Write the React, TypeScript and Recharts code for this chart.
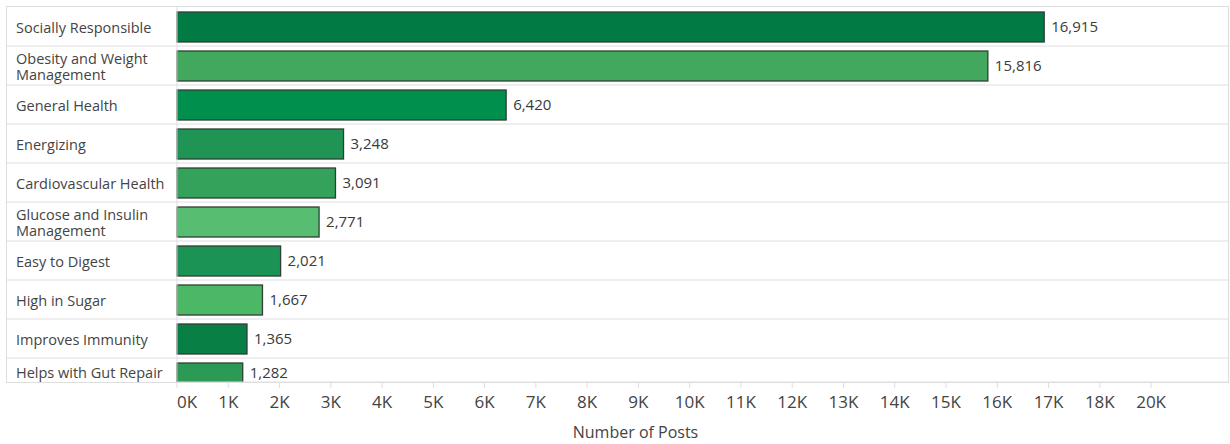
import React from 'react';
import { BarChart, Bar, XAxis, YAxis, Cell, LabelList } from 'recharts';

const categories = [
  'Socially Responsible',
  'Obesity and Weight Management',
  'General Health',
  'Energizing',
  'Cardiovascular Health',
  'Glucose and Insulin Management',
  'Easy to Digest',
  'High in Sugar',
  'Improves Immunity',
  'Helps with Gut Repair',
];
const posts = [16915, 15816, 6420, 3248, 3091, 2771, 2021, 1667, 1365, 1282];
const barColors = [
  '#027a43', '#42a85e', '#018f4e', '#1f9455', '#34a25a',
  '#57bd70', '#1a9354', '#4cb865', '#077f45', '#2a9a55',
];
const tickValues = [0, 1000, 2000, 3000, 4000, 5000, 6000, 7000, 8000, 9000, 10000, 11000, 12000, 13000, 14000, 15000, 16000, 17000, 18000, 19000];
const tickLabels = ['0K', '1K', '2K', '3K', '4K', '5K', '6K', '7K', '8K', '9K', '10K', '11K', '12K', '13K', '14K', '15K', '16K', '17K', '18K', '20K'];
const xMax = 20500;

const data = categories.map((name, i) => ({ name, value: posts[i] }));

const W = 1230;
const H = 444;
const X_AXIS_H = 62;
const PLOT_BOTTOM = H - X_AXIS_H;
const TEXT_MAX_Y = PLOT_BOTTOM - 9;
const FONT = '"Open Sans", "Noto Sans", sans-serif';
const GRID = '#dedede';
const BORDER_L = 6;
const BORDER_R = 1228;

function wrap(text: string, maxChars = 21): string[] {
  const words = text.split(' ');
  const lines: string[] = [];
  let cur = '';
  for (const w of words) {
    const next = cur ? cur + ' ' + w : w;
    if (next.length > maxChars && cur) {
      lines.push(cur);
      cur = w;
    } else {
      cur = next;
    }
  }
  if (cur) lines.push(cur);
  return lines;
}

const YTick = (props: any) => {
  const { y, payload, index } = props;
  const off = payload && typeof payload.offset === 'number' && payload.offset > 0 ? payload.offset : 19.5;
  const lines = wrap(String(payload.value));
  const lh = 16.7;
  let startY = y - ((lines.length - 1) * lh) / 2 + 1.5;
  const lastY = startY + (lines.length - 1) * lh;
  if (lastY > TEXT_MAX_Y) startY -= lastY - TEXT_MAX_Y;
  return (
    <g>
      {index < categories.length - 1 && (
        <line x1={BORDER_L} x2={BORDER_R} y1={y + off} y2={y + off} stroke={GRID} strokeWidth={1} />
      )}
      <text x={16} y={startY} fontSize={14.5} fill="#444" fontFamily={FONT} textAnchor="start">
        {lines.map((l, i) => (
          <tspan key={i} x={16} y={startY + i * lh} dy="0.35em">
            {l}
          </tspan>
        ))}
      </text>
    </g>
  );
};

const XTick = (props: any) => {
  const { x, y, payload } = props;
  const idx = tickValues.indexOf(payload.value);
  const label = idx >= 0 ? tickLabels[idx] : '';
  return (
    <text x={x} y={y} dy={18} fontSize={17} fill="#444" fontFamily={FONT} textAnchor={idx === 0 ? 'start' : 'middle'}>
      {label}
    </text>
  );
};

const ClippedBar = (props: any) => {
  const { x, y, width, height, fill, stroke, strokeWidth, index } = props;
  const id = `barclip-${index}`;
  return (
    <g>
      <defs>
        <clipPath id={id}>
          <rect x={0} y={0} width={W} height={PLOT_BOTTOM} />
        </clipPath>
      </defs>
      <rect
        x={x}
        y={y}
        width={width}
        height={height}
        fill={fill}
        stroke={stroke}
        strokeWidth={strokeWidth}
        clipPath={`url(#${id})`}
      />
    </g>
  );
};

const ValueLabel = (props: any) => {
  const { x, y, width, height, value } = props;
  const cy = Math.min(Number(y) + Number(height) / 2, TEXT_MAX_Y);
  return (
    <text
      x={Number(x) + Number(width) + 7}
      y={cy}
      dy="0.35em"
      fill="#3a3a3a"
      fontSize={15}
      fontFamily={FONT}
      textAnchor="start"
    >
      {Number(value).toLocaleString('en-US')}
    </text>
  );
};

export default function App() {
  return (
    <div style={{ position: 'absolute', left: 0, top: 0, width: W, height: H, background: '#fff' }}>
      <BarChart
        width={W}
        height={H}
        data={data}
        layout="vertical"
        margin={{ top: 7, right: W - BORDER_R, bottom: 0, left: 0 }}
      >
        <XAxis
          type="number"
          domain={[0, xMax]}
          ticks={tickValues}
          interval={0}
          height={X_AXIS_H}
          axisLine={{ stroke: GRID }}
          tickLine={{ stroke: GRID }}
          tickSize={6}
          tick={<XTick />}
          label={{
            value: 'Number of Posts',
            position: 'insideBottom',
            offset: 6,
            dx: -67,
            fill: '#444',
            fontSize: 16,
            fontFamily: FONT,
          }}
        />
        <YAxis
          type="category"
          dataKey="name"
          width={177}
          padding={{ top: 0, bottom: -15 }}
          allowDataOverflow
          axisLine={{ stroke: GRID }}
          tickLine={false}
          interval={0}
          tick={<YTick />}
        />
        <Bar
          dataKey="value"
          barSize={30}
          stroke="#2e3f35"
          strokeWidth={1.3}
          shape={<ClippedBar />}
          isAnimationActive={false}
        >
          {data.map((d, i) => (
            <Cell key={d.name} fill={barColors[i]} />
          ))}
          <LabelList dataKey="value" content={<ValueLabel />} />
        </Bar>
      </BarChart>
      <div
        style={{
          position: 'absolute',
          left: BORDER_L,
          top: 6,
          width: BORDER_R - BORDER_L + 1,
          height: PLOT_BOTTOM - 6 + 1,
          border: `1px solid ${GRID}`,
          boxSizing: 'border-box',
          pointerEvents: 'none',
        }}
      />
    </div>
  );
}
